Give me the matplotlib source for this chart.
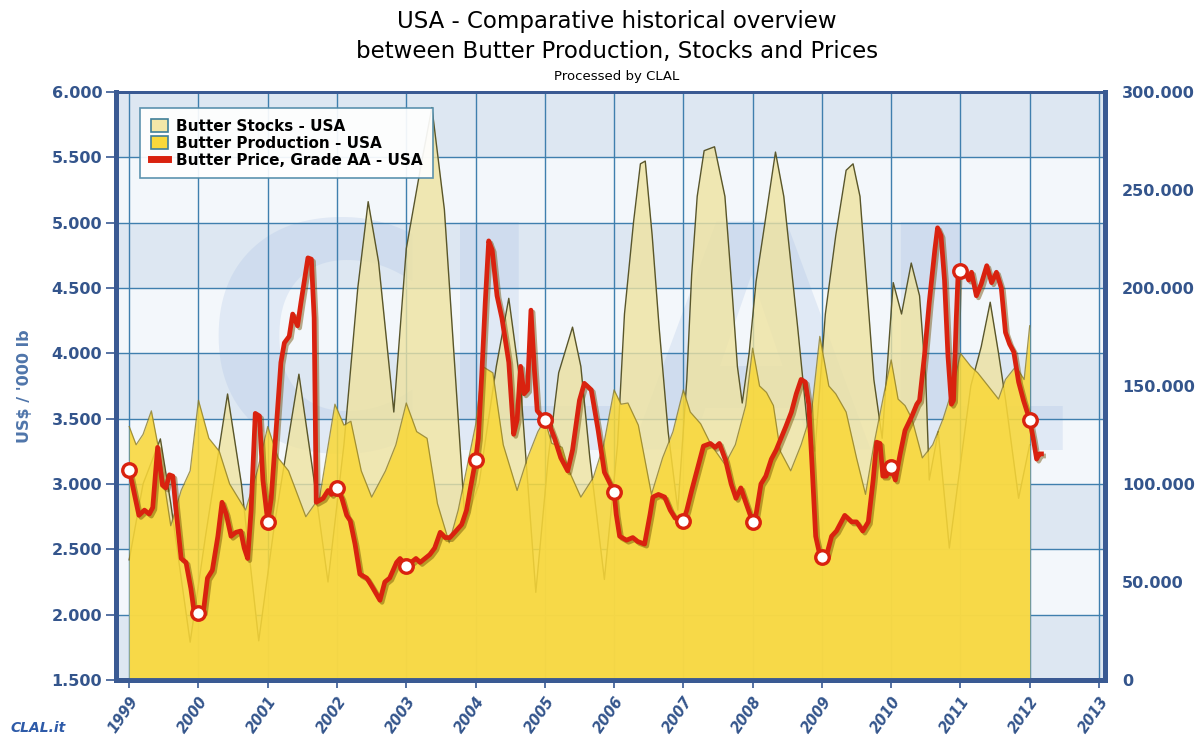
import matplotlib
matplotlib.use("Agg")
import matplotlib.pyplot as plt
import matplotlib.patheffects as pe
from matplotlib.patches import Patch
from matplotlib.lines import Line2D
import numpy as np

# decimal year, butter stocks ('000 lb, right axis)
stocks_t = [1999.00, 1999.20, 1999.45, 1999.60, 1999.88, 2000.10, 2000.42, 2000.62, 2000.87,
            2001.10, 2001.45, 2001.65, 2001.87, 2002.10, 2002.30, 2002.45, 2002.60, 2002.82,
            2003.00, 2003.20, 2003.37, 2003.55, 2003.85, 2004.05, 2004.30, 2004.48, 2004.65,
            2004.87, 2005.05, 2005.20, 2005.40, 2005.52, 2005.65, 2005.86, 2006.05, 2006.15,
            2006.28, 2006.38, 2006.45, 2006.55, 2006.65, 2006.78, 2006.92, 2007.05, 2007.12,
            2007.20, 2007.30, 2007.45, 2007.60, 2007.70, 2007.78, 2007.85, 2007.95, 2008.05,
            2008.15, 2008.33, 2008.45, 2008.55, 2008.65, 2008.80, 2008.90, 2009.05, 2009.20,
            2009.35, 2009.45, 2009.55, 2009.65, 2009.75, 2009.87, 2010.03, 2010.15, 2010.29,
            2010.41, 2010.50, 2010.55, 2010.68, 2010.84, 2011.00, 2011.15, 2011.30, 2011.43,
            2011.55, 2011.65, 2011.84, 2012.00]
stocks_v = [61300, 100000, 123000, 90000, 19300, 73000, 145900, 100000, 20000,
            80000, 156000, 106700, 50000, 120000, 200000, 244000, 213300, 136700,
            220000, 260000, 292000, 240000, 80000, 100000, 160000, 194700, 150000,
            44700, 113300, 156700, 180000, 160000, 113300, 51300, 120000, 186700,
            233300, 263300, 264700, 226700, 180000, 126700, 86700, 153300, 206700,
            246700, 270000, 272000, 246700, 200000, 160000, 141300, 166700, 203300,
            226700, 269300, 246700, 213300, 180000, 126700, 116700, 186700, 226700,
            260000, 263300, 246700, 200000, 153300, 123300, 202700, 186700, 212700,
            196000, 153300, 102000, 126700, 67300, 110000, 150000, 170000, 192700,
            166700, 143300, 92700, 120000]

# decimal year, butter production ('000 lb, right axis)
prod_t = [1999.00, 1999.10, 1999.20, 1999.32, 1999.45, 1999.60, 1999.75, 1999.88, 2000.00,
          2000.15, 2000.30, 2000.45, 2000.68, 2000.85, 2001.00, 2001.15, 2001.30, 2001.55,
          2001.75, 2001.97, 2002.10, 2002.20, 2002.35, 2002.50, 2002.70, 2002.85, 2003.00,
          2003.15, 2003.30, 2003.45, 2003.62, 2003.75, 2004.00, 2004.10, 2004.25, 2004.40,
          2004.60, 2004.75, 2004.90, 2005.00, 2005.10, 2005.25, 2005.35, 2005.52, 2005.70,
          2005.85, 2006.00, 2006.10, 2006.20, 2006.35, 2006.54, 2006.70, 2006.85, 2007.00,
          2007.10, 2007.25, 2007.40, 2007.60, 2007.75, 2007.90, 2008.00, 2008.10, 2008.20,
          2008.30, 2008.40, 2008.55, 2008.70, 2008.85, 2008.97, 2009.10, 2009.20, 2009.35,
          2009.50, 2009.63, 2009.75, 2009.90, 2010.00, 2010.10, 2010.20, 2010.30, 2010.45,
          2010.60, 2010.75, 2010.90, 2011.00, 2011.15, 2011.25, 2011.40, 2011.55, 2011.65,
          2011.80, 2011.92, 2012.00]
prod_v = [129300, 120000, 125300, 137300, 113300, 78700, 96700, 106700, 142700,
          123300, 116700, 100000, 86700, 106700, 129300, 113300, 106700, 83300,
          93300, 140700, 130000, 132000, 106700, 93300, 106700, 120000, 141300,
          126700, 123300, 90000, 70000, 86700, 130000, 160000, 156700, 120000,
          96700, 113300, 126700, 132700, 120700, 118700, 106700, 93300, 103300,
          120000, 148000, 140700, 141300, 130000, 94700, 113300, 126700, 148000,
          136700, 130700, 120000, 110000, 120000, 140000, 169300, 150000, 146700,
          140000, 116700, 106700, 120000, 136700, 175300, 150000, 146000, 136700,
          113300, 94700, 120000, 146700, 163300, 143300, 140000, 133300, 113300,
          120000, 133300, 150000, 166700, 160000, 156700, 150000, 143300, 153300,
          160000, 153300, 180700]

# decimal year, butter price Grade AA (left axis)
price_t = [1999.00, 1999.14, 1999.22, 1999.29, 1999.34, 1999.41, 1999.48, 1999.53, 1999.58,
           1999.63, 1999.67, 1999.75, 1999.82, 1999.89, 1999.94, 2000.00, 2000.07, 2000.13,
           2000.20, 2000.28, 2000.34, 2000.40, 2000.47, 2000.54, 2000.61, 2000.66, 2000.71,
           2000.76, 2000.82, 2000.88, 2000.93, 2001.00, 2001.05, 2001.12, 2001.19, 2001.24,
           2001.31, 2001.36, 2001.43, 2001.48, 2001.58, 2001.63, 2001.67, 2001.70, 2001.80,
           2001.87, 2001.92, 2002.00, 2002.07, 2002.14, 2002.19, 2002.26, 2002.33, 2002.43,
           2002.50, 2002.62, 2002.69, 2002.76, 2002.86, 2002.91, 2003.00, 2003.07, 2003.14,
           2003.20, 2003.27, 2003.34, 2003.41, 2003.49, 2003.56, 2003.63, 2003.70, 2003.80,
           2003.87, 2003.92, 2004.00, 2004.04, 2004.09, 2004.14, 2004.19, 2004.24, 2004.31,
           2004.38, 2004.48, 2004.55, 2004.60, 2004.65, 2004.70, 2004.75, 2004.80, 2004.85,
           2004.89, 2005.00, 2005.06, 2005.14, 2005.23, 2005.33, 2005.40, 2005.50, 2005.57,
           2005.67, 2005.77, 2005.86, 2006.00, 2006.03, 2006.08, 2006.18, 2006.27, 2006.34,
           2006.44, 2006.52, 2006.56, 2006.64, 2006.73, 2006.81, 2006.88, 2007.00, 2007.05,
           2007.12, 2007.19, 2007.29, 2007.39, 2007.46, 2007.52, 2007.61, 2007.69, 2007.76,
           2007.83, 2007.90, 2008.00, 2008.05, 2008.12, 2008.19, 2008.27, 2008.34, 2008.41,
           2008.48, 2008.56, 2008.63, 2008.70, 2008.76, 2008.81, 2008.86, 2008.91, 2008.96,
           2009.00, 2009.07, 2009.14, 2009.21, 2009.33, 2009.43, 2009.50, 2009.59, 2009.67,
           2009.74, 2009.79, 2009.84, 2009.88, 2009.93, 2010.00, 2010.06, 2010.13, 2010.20,
           2010.30, 2010.37, 2010.41, 2010.48, 2010.55, 2010.63, 2010.67, 2010.72, 2010.77,
           2010.82, 2010.87, 2010.90, 2010.94, 2010.97, 2011.00, 2011.07, 2011.12, 2011.16,
           2011.23, 2011.30, 2011.38, 2011.45, 2011.52, 2011.59, 2011.65, 2011.71, 2011.77,
           2011.84, 2011.91, 2012.00, 2012.05, 2012.10, 2012.14, 2012.17]
price_v = [3.11, 2.76, 2.80, 2.77, 2.82, 3.28, 2.99, 2.97, 3.07,
           3.06, 2.83, 2.43, 2.40, 2.20, 2.01, 2.01, 2.02, 2.28,
           2.34, 2.60, 2.86, 2.77, 2.60, 2.63, 2.64, 2.51, 2.43,
           2.80, 3.54, 3.52, 3.03, 2.71, 2.89, 3.41, 3.93, 4.08,
           4.13, 4.30, 4.21, 4.39, 4.73, 4.72, 4.27, 2.86, 2.89,
           2.95, 2.92, 2.97, 2.89, 2.76, 2.72, 2.54, 2.31, 2.28,
           2.22, 2.11, 2.25, 2.28, 2.40, 2.43, 2.37, 2.40, 2.43,
           2.40, 2.43, 2.46, 2.51, 2.63, 2.59, 2.59, 2.63, 2.69,
           2.80, 2.95, 3.18, 3.35, 3.84, 4.39, 4.86, 4.79, 4.44,
           4.27, 3.93, 3.38, 3.49, 3.90, 3.69, 3.72, 4.33, 3.87,
           3.56, 3.49, 3.46, 3.35, 3.20, 3.10, 3.26, 3.64, 3.77,
           3.72, 3.41, 3.09, 2.94, 2.77, 2.60, 2.57, 2.59, 2.56,
           2.54, 2.77, 2.90, 2.92, 2.90, 2.80, 2.74, 2.72, 2.80,
           2.95, 3.09, 3.29, 3.31, 3.28, 3.31, 3.18, 3.00, 2.89,
           2.97, 2.86, 2.71, 2.77, 3.00, 3.06, 3.19, 3.26, 3.35,
           3.44, 3.55, 3.69, 3.80, 3.78, 3.61, 3.12, 2.60, 2.48,
           2.44, 2.46, 2.60, 2.64, 2.76, 2.71, 2.71, 2.64, 2.71,
           3.03, 3.32, 3.31, 3.06, 3.06, 3.13, 3.03, 3.23, 3.41,
           3.52, 3.61, 3.64, 3.98, 4.39, 4.79, 4.96, 4.90, 4.56,
           3.98, 3.61, 3.64, 4.27, 4.65, 4.63, 4.62, 4.56, 4.62,
           4.44, 4.53, 4.67, 4.54, 4.62, 4.50, 4.16, 4.07, 4.01,
           3.78, 3.64, 3.49, 3.35, 3.19, 3.23, 3.23]

year_ticks = list(range(1999, 2014))
left_ticks = [1.5, 2.0, 2.5, 3.0, 3.5, 4.0, 4.5, 5.0, 5.5, 6.0]
left_labels = ["1.500", "2.000", "2.500", "3.000", "3.500", "4.000", "4.500", "5.000", "5.500", "6.000"]
right_ticks = [0, 50000, 100000, 150000, 200000, 250000, 300000]
right_labels = ["0", "50.000", "100.000", "150.000", "200.000", "250.000", "300.000"]

BLUE = "#3a5a93"
GRID = "#3f7fae"
LABEL = "#34558c"
RED = "#d9220f"

fig = plt.figure(figsize=(12, 7.41), dpi=100)

# background axes: left scale, bands, grid, year ticks
ax = fig.add_axes([0.0967, 0.0823, 0.8243, 0.7937])
ax.set_xlim(1998.81, 2013.09)
ax.set_ylim(1.5, 6.0)
for i, lo in enumerate(left_ticks[:-1]):
    color = "#dde7f2" if i % 2 == 0 else "#f3f7fb"
    ax.axhspan(lo, lo + 0.5, color=color, zorder=0, lw=0)
ax.text(2006.33, 3.92, "CLAL", fontsize=225, fontweight="bold", color="#9fb8e0",
        alpha=0.22, ha="center", va="center", zorder=0.5, clip_on=True)
ax.set_xticks(year_ticks)
ax.set_yticks(left_ticks)
ax.set_yticklabels(left_labels)
ax.grid(True, color=GRID, linewidth=1.0, zorder=1)
ax.set_xticklabels([str(y) for y in year_ticks], rotation=55, ha="right",
                   rotation_mode="anchor", fontweight="bold", fontstyle="italic")
ax.tick_params(axis="x", colors=BLUE, labelcolor=LABEL, labelsize=10.5, length=6, width=1.2, pad=4)
ax.tick_params(axis="y", colors=BLUE, labelcolor=LABEL, labelsize=11.5, length=7, width=1.2, pad=3)
for lab in ax.get_yticklabels():
    lab.set_fontweight("bold")
ax.set_ylabel("US$ / '000 lb", color="#4f75aa", fontsize=11.5, fontweight="bold", labelpad=14)

# stocks and production on the right scale
axr = ax.twinx()
axr.set_ylim(0, 300000)
axr.set_yticks(right_ticks)
axr.set_yticklabels(right_labels)
axr.tick_params(axis="y", labelcolor=LABEL, labelsize=11.5, length=0, pad=12)
for lab in axr.get_yticklabels():
    lab.set_fontweight("bold")
axr.fill_between(stocks_t, stocks_v, 0, color="#efe3a0", alpha=0.8, lw=0, zorder=2)
axr.plot(stocks_t, stocks_v, color="#59562a", lw=1.0, zorder=2.1)
axr.fill_between(prod_t, prod_v, 0, color="#f9d83a", alpha=0.88, lw=0, zorder=3)
axr.plot(prod_t, prod_v, color="#8c7d2a", lw=0.9, alpha=0.8, zorder=3.1)

# price on the left scale
axp = ax.twinx()
axp.set_ylim(1.5, 6.0)
axp.set_yticks([])
price_t = np.array(price_t)
price_v = np.array(price_v)
axp.plot(price_t, price_v, color=RED, lw=3.4, solid_joinstyle="round", zorder=5,
         path_effects=[pe.SimpleLineShadow(offset=(1.5, -1.5), shadow_color="#6b4a00", alpha=0.45),
                       pe.Normal()])
jan = np.isclose(price_t, np.round(price_t))
axp.scatter(price_t[jan], price_v[jan], s=95, facecolor="white", edgecolor=RED,
            linewidth=2.4, zorder=6)

for a in (ax, axr, axp):
    for side in ("left", "right", "bottom"):
        a.spines[side].set_color(BLUE)
        a.spines[side].set_linewidth(3.5)
    a.spines["top"].set_color(BLUE)
    a.spines["top"].set_linewidth(2.0)

handles = [Patch(facecolor="#f3e7a8", edgecolor="#3f7f9a", lw=1.2),
           Patch(facecolor="#f9d83a", edgecolor="#3f7f9a", lw=1.2),
           Line2D([], [], color=RED, lw=5)]
leg = axp.legend(handles, ["Butter Stocks - USA", "Butter Production - USA",
                           "Butter Price, Grade AA - USA"],
                 loc="upper left", bbox_to_anchor=(0.017, 0.985), frameon=True, fancybox=False,
                 prop={"weight": "bold", "size": 11}, handlelength=1.1, handleheight=0.9,
                 handletextpad=0.5, labelspacing=0.12, borderpad=0.7, framealpha=0.92)
leg.get_frame().set_edgecolor("#4f8aa8")
leg.get_frame().set_linewidth(1.2)
leg.set_zorder(10)

fig.text(0.514, 0.987, "USA - Comparative historical overview", ha="center", va="top",
         fontsize=16.5, color="black")
fig.text(0.514, 0.946, "between Butter Production, Stocks and Prices", ha="center", va="top",
         fontsize=16.5, color="black")
fig.text(0.514, 0.905, "Processed by CLAL", ha="center", va="top", fontsize=9.5, color="black")
fig.text(0.009, 0.008, "CLAL.it", ha="left", va="bottom", fontsize=10, fontweight="bold",
         color="#2d5aa8", fontstyle="italic")

fig.savefig("out.png", dpi=100)
